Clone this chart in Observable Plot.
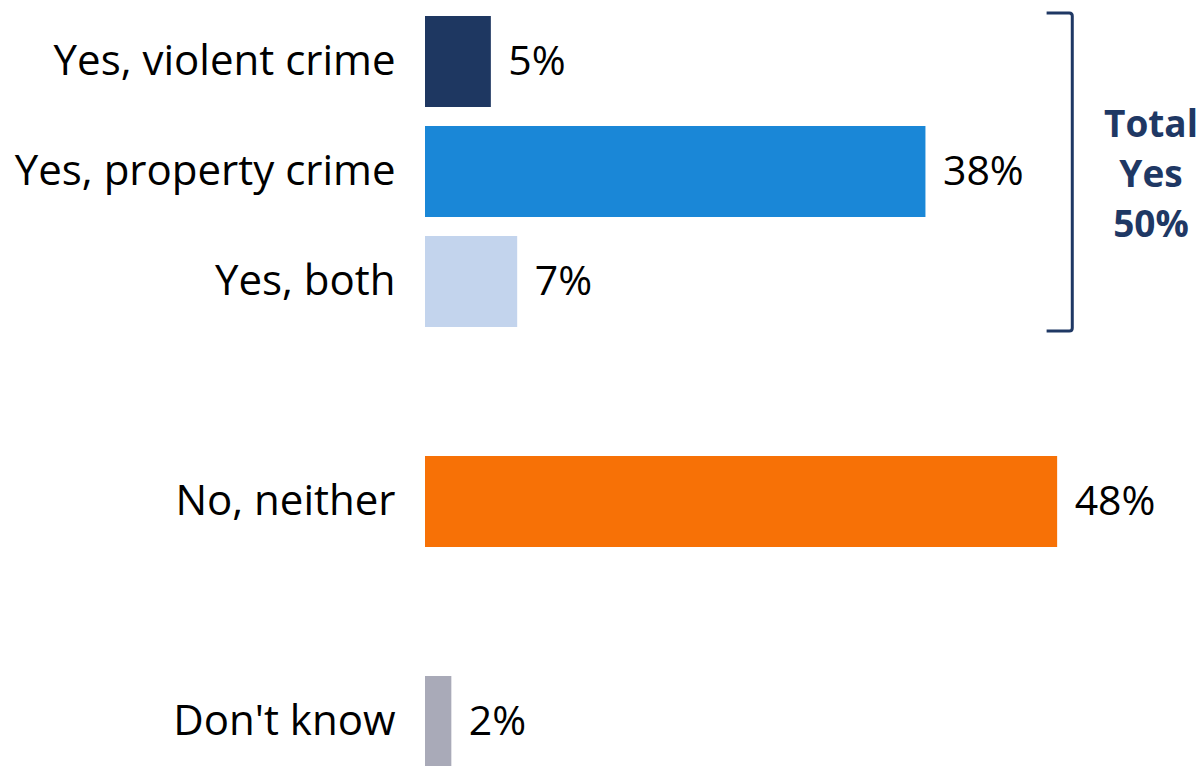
<!DOCTYPE html>
<html>
<head>
<meta charset="utf-8">
<script src="https://cdn.jsdelivr.net/npm/d3@7"></script>
<script src="https://cdn.jsdelivr.net/npm/@observablehq/plot@0.6"></script>
<style>
  html, body { margin: 0; padding: 0; background: #fff; overflow: hidden; }
  #chart { width: 1202px; height: 766px; }
</style>
</head>
<body>
<div id="chart"></div>
<script>
// Data
const categories = ["Yes, violent crime", "Yes, property crime", "Yes, both", "No, neither", "Don't know"];
const values = [5, 38, 7, 48, 2];
const colors = ["#1e3761", "#1a87d7", "#c3d4ed", "#f77106", "#a9aab8"];
const yesCategories = ["Yes, violent crime", "Yes, property crime", "Yes, both"];
const totalLines = ["Total", "Yes"];

// Layout order with blank gaps between groups
const yDomain = ["Yes, violent crime", "Yes, property crime", "Yes, both", "gap1", "No, neither", "gap2", "Don't know"];

const rows = categories.map((c, i) => ({category: c, value: values[i], color: colors[i]}));
const totalYes = rows.filter(r => yesCategories.includes(r.category)).reduce((s, r) => s + r.value, 0);

const FONT = "'Open Sans', 'Noto Sans', sans-serif";
const NAVY = "#1f3864";

const bracket = (index, scales, vals, dims) => {
  const y = scales.y;
  const bw = y.bandwidth ? y.bandwidth() : 0;
  const top = y(yesCategories[0]) - 3;
  const bottom = y(yesCategories[yesCategories.length - 1]) + bw + 4;
  const xv = scales.x(49.15);
  const xh = scales.x(47.2);
  const g = d3.create("svg:g");
  g.append("path")
    .attr("d", `M${xh},${top} L${xv - 3},${top} Q${xv},${top} ${xv},${top + 3} L${xv},${bottom - 3} Q${xv},${bottom} ${xv - 3},${bottom} L${xh},${bottom}`)
    .attr("fill", "none")
    .attr("stroke", NAVY)
    .attr("stroke-width", 3);
  const cx = 1151;
  const midY = (top + bottom) / 2;
  const lines = [...totalLines, `${totalYes}%`];
  const lh = 50;
  lines.forEach((t, i) => {
    g.append("text")
      .attr("x", cx)
      .attr("y", midY + (i - (lines.length - 1) / 2) * lh)
      .attr("text-anchor", "middle")
      .attr("dominant-baseline", "central")
      .attr("font-family", FONT)
      .attr("font-weight", "bold")
      .attr("font-size", 37)
      .attr("fill", NAVY)
      .text(t);
  });
  return g.node();
};

const chart = Plot.plot({
  width: 1202,
  height: 766,
  marginLeft: 425,
  marginRight: 0,
  marginTop: 0,
  marginBottom: 0,
  style: {fontFamily: FONT, background: "#fff", overflow: "visible"},
  x: {domain: [0, 59], axis: null},
  y: {type: "band", domain: yDomain, range: [7, 777], paddingInner: 0.17, paddingOuter: 0.085, axis: null, label: null},
  marks: [
    Plot.barX(rows, {x: "value", y: "category", fill: "color"}),
    Plot.axisY({
      tickSize: 0,
      tickPadding: 30,
      fontSize: 42,
      fill: "#000",
      label: null,
      tickFormat: d => d.startsWith("gap") ? "" : d
    }),
    Plot.text(rows, {
      x: "value", y: "category", text: d => `${d.value}%`,
      dx: 17, textAnchor: "start", fontSize: 41, fill: "#000"
    }),
    bracket
  ]
});

document.getElementById("chart").appendChild(chart);
</script>
</body>
</html>
